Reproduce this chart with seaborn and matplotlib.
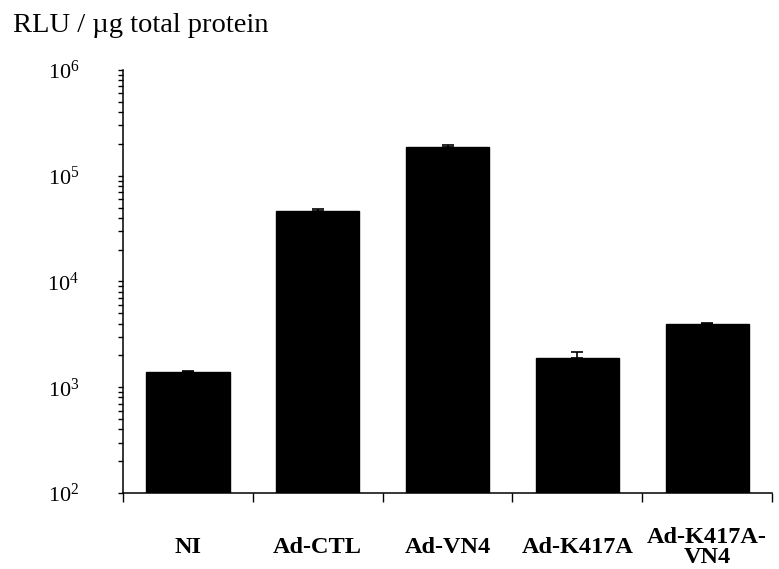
import numpy as np
import matplotlib
matplotlib.use('Agg')
import matplotlib.pyplot as plt
import matplotlib.ticker as mticker
import seaborn as sns

# Dados (RLU / ug proteína total)
grupos = ['NI', 'Ad-CTL', 'Ad-VN4', 'Ad-K417A', 'Ad-K417A-\nVN4']
rlu = [1390, 46700, 187000, 1900, 3940]
erro = [30, 1800, 8000, 270, 90]

sns.set_theme(style='white')
plt.rcParams['font.family'] = ['Liberation Serif', 'DejaVu Serif']
plt.rcParams['mathtext.fontset'] = 'custom'
plt.rcParams['mathtext.rm'] = 'Liberation Serif'
plt.rcParams['mathtext.it'] = 'Liberation Serif:italic'
plt.rcParams['mathtext.bf'] = 'Liberation Serif:bold'

fig = plt.figure(figsize=(7.79, 5.69), dpi=100)
ax = fig.add_axes([0.158, 0.1336, 0.833, 0.7434])
ax.set_yscale('log')

sns.barplot(x=grupos, y=rlu, color='black', edgecolor='black',
            width=0.64, saturation=1, ax=ax)
ax.errorbar(x=np.arange(len(grupos)), y=rlu,
            yerr=[np.zeros(len(erro)), erro],
            fmt='none', ecolor='black', elinewidth=1.2, capsize=4, capthick=1.2)

ax.set_ylim(1e2, 1e6)
ax.set_xlim(-0.5, len(grupos) - 0.5)

# Eixos: apenas esquerdo e inferior
for lado in ['top', 'right']:
    ax.spines[lado].set_visible(False)
for lado in ['left', 'bottom']:
    ax.spines[lado].set_color('black')
    ax.spines[lado].set_linewidth(1.1)

# Eixo y logarítmico com ticks menores
ax.yaxis.set_minor_locator(mticker.LogLocator(base=10, subs=np.arange(2, 10), numticks=10))
ax.yaxis.set_minor_formatter(mticker.NullFormatter())
ax.set_yticks([1e2, 1e3, 1e4, 1e5, 1e6])
ax.set_yticklabels([r'$10^{%d}$' % k for k in range(2, 7)])
ax.tick_params(axis='y', which='both', direction='out', length=3.5, width=1,
               color='black', left=True, pad=28, labelsize=16, labelcolor='black')

# Eixo x: ticks nas divisões entre categorias
ax.set_xticks(np.arange(-0.5, len(grupos)), minor=True)
ax.tick_params(axis='x', which='minor', direction='out', length=6.5, width=1,
               color='black', bottom=True)
ax.tick_params(axis='x', which='major', length=0, pad=39, labelsize=17.5,
               labelcolor='black')
for rot in ax.get_xticklabels():
    rot.set_fontweight('bold')
    rot.set_va('center')
    rot.set_linespacing(0.95)

ax.set_xlabel('')
ax.set_ylabel('')

fig.text(13 / 779, 1 - 32 / 569, 'RLU / µg total protein', fontsize=20.5,
         ha='left', va='baseline', color='black')

plt.savefig('out.png', dpi=100)
